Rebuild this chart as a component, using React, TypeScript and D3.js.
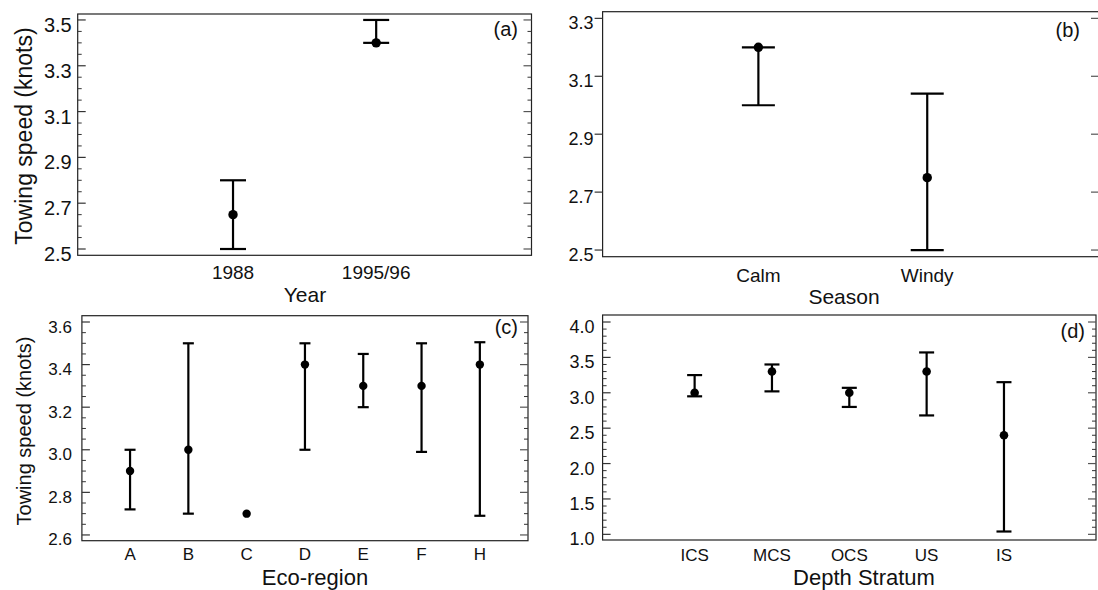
import React from "react";
import * as d3 from "d3";

// (a) Year
const yearCats = ["1988", "1995/96"];
const yearMean = [2.65, 3.4];
const yearLow = [2.5, 3.4];
const yearHigh = [2.8, 3.5];
const yearTicks = [2.5, 2.7, 2.9, 3.1, 3.3, 3.5];

// (b) Season
const seasonCats = ["Calm", "Windy"];
const seasonMean = [3.2, 2.75];
const seasonLow = [3.0, 2.5];
const seasonHigh = [3.2, 3.04];
const seasonTicks = [2.5, 2.7, 2.9, 3.1, 3.3];

// (c) Eco-region
const ecoCats = ["A", "B", "C", "D", "E", "F", "H"];
const ecoMean = [2.9, 3.0, 2.7, 3.4, 3.3, 3.3, 3.4];
const ecoLow = [2.72, 2.7, null, 3.0, 3.2, 2.99, 2.69];
const ecoHigh = [3.0, 3.5, null, 3.5, 3.45, 3.5, 3.505];
const ecoTicks = [2.6, 2.8, 3.0, 3.2, 3.4, 3.6];

// (d) Depth stratum
const depthCats = ["ICS", "MCS", "OCS", "US", "IS"];
const depthMean = [3.0, 3.3, 3.0, 3.3, 2.4];
const depthLow = [2.95, 3.02, 2.8, 2.68, 1.04];
const depthHigh = [3.25, 3.4, 3.07, 3.57, 3.15];
const depthTicks = [1.0, 1.5, 2.0, 2.5, 3.0, 3.5, 4.0];

const FONT = "'Liberation Sans', Arial, Helvetica, sans-serif";

type PanelProps = {
  cats: string[];
  mean: number[];
  low: (number | null)[];
  high: (number | null)[];
  ticks: number[];
  minorStep?: number;
  box: { left: number; right: number; top: number; bottom: number };
  yDomain: [number, number];
  padding: number;
  align?: number;
  cap: number;
  r: number;
  tickFont: number;
  tickGap: number;
  outwardLeft?: boolean;
  catFont: number;
  catY: number;
  xTitle: string;
  xTitleX: number;
  xTitleY: number;
  xTitleFont: number;
  yTitle?: string;
  yTitleX?: number;
  yTitleY?: number;
  yTitleFont?: number;
  tag: string;
  tagX: number;
  tagY: number;
  tagFont: number;
};

function ErrorPanel(p: PanelProps) {
  const { left, right, top, bottom } = p.box;
  const x = d3
    .scalePoint<string>()
    .domain(p.cats)
    .range([left, right])
    .padding(p.padding)
    .align(p.align ?? 0.5);
  const y = d3.scaleLinear().domain(p.yDomain).range([bottom, top]);
  const fmt = d3.format(".1f");

  // minor ticks between the labelled ones
  const minor = p.minorStep
    ? d3
        .range(Math.ceil(p.yDomain[0] / p.minorStep), Math.floor(p.yDomain[1] / p.minorStep) + 1)
        .map((k) => k * p.minorStep!)
        .filter((v) => !p.ticks.some((t) => Math.abs(t - v) < 1e-6))
    : [];

  const major = 8;
  const small = 4;

  return (
    <g>
      <rect x={left} y={top} width={right - left} height={bottom - top} fill="none" stroke="#222" strokeWidth={1.2} />

      {minor.map((v) => (
        <g key={"m" + v} stroke="#333" strokeWidth={1}>
          <line x1={left} x2={left + small} y1={y(v)} y2={y(v)} />
          <line x1={right} x2={right - small} y1={y(v)} y2={y(v)} />
        </g>
      ))}

      {p.ticks.map((v) => (
        <g key={"t" + v}>
          <line
            x1={left}
            x2={p.outwardLeft ? left - major : left + major}
            y1={y(v)}
            y2={y(v)}
            stroke="#333"
            strokeWidth={1.2}
          />
          <line x1={right} x2={right - major} y1={y(v)} y2={y(v)} stroke="#555" strokeWidth={1.2} />
          <text
            x={left - p.tickGap}
            y={y(v) + 5}
            textAnchor="end"
            dominantBaseline="central"
            fontSize={p.tickFont}
            fontFamily={FONT}
            fill="#111"
          >
            {fmt(v)}
          </text>
        </g>
      ))}

      {p.cats.map((c) => (
        <text
          key={"c" + c}
          x={x(c)!}
          y={p.catY}
          textAnchor="middle"
          dominantBaseline="central"
          fontSize={p.catFont}
          fontFamily={FONT}
          fill="#111"
        >
          {c}
        </text>
      ))}

      {p.cats.map((c, i) => {
        const lo = p.low[i];
        const hi = p.high[i];
        const cx = x(c)!;
        if (lo == null || hi == null) return null;
        return (
          <g key={"e" + c} stroke="#000" strokeWidth={2.2}>
            <line x1={cx} x2={cx} y1={y(lo)} y2={y(hi)} />
            <line x1={cx - p.cap} x2={cx + p.cap} y1={y(lo)} y2={y(lo)} />
            <line x1={cx - p.cap} x2={cx + p.cap} y1={y(hi)} y2={y(hi)} />
          </g>
        );
      })}

      {p.cats.map((c, i) => (
        <circle key={"p" + c} cx={x(c)!} cy={y(p.mean[i])} r={p.r} fill="#000" />
      ))}

      <text
        x={p.xTitleX}
        y={p.xTitleY}
        textAnchor="middle"
        dominantBaseline="central"
        fontSize={p.xTitleFont}
        fontFamily={FONT}
        fill="#111"
      >
        {p.xTitle}
      </text>
      {p.yTitle && (
        <text
          transform={`translate(${p.yTitleX},${p.yTitleY}) rotate(-90)`}
          textAnchor="middle"
          dominantBaseline="central"
          fontSize={p.yTitleFont}
          fontFamily={FONT}
          fill="#111"
        >
          {p.yTitle}
        </text>
      )}
      <text
        x={p.tagX}
        y={p.tagY}
        textAnchor="end"
        dominantBaseline="central"
        fontSize={p.tagFont}
        fontFamily={FONT}
        fill="#111"
      >
        {p.tag}
      </text>
    </g>
  );
}

export default function App() {
  return (
    <svg
      width={1098}
      height={590}
      style={{ position: "absolute", left: 0, top: 0, background: "#fff" }}
    >
      <ErrorPanel
        cats={yearCats}
        mean={yearMean}
        low={yearLow}
        high={yearHigh}
        ticks={yearTicks}
        minorStep={0.05}
        box={{ left: 77.7, right: 531.5, top: 14, bottom: 255.3 }}
        yDomain={[2.4725, 3.526]}
        padding={1.085}
        cap={13}
        r={4.7}
        tickFont={20}
        tickGap={6}
        catFont={19}
        catY={272}
        xTitle="Year"
        xTitleX={305}
        xTitleY={294}
        xTitleFont={21}
        yTitle="Towing speed (knots)"
        yTitleX={24}
        yTitleY={136}
        yTitleFont={23}
        tag="(a)"
        tagX={518}
        tagY={29}
        tagFont={20}
      />
      <ErrorPanel
        cats={seasonCats}
        mean={seasonMean}
        low={seasonLow}
        high={seasonHigh}
        ticks={seasonTicks}
        box={{ left: 602.6, right: 1099, top: 11.7, bottom: 256.7 }}
        yDomain={[2.477, 3.323]}
        padding={0.97}
        align={0.4756}
        cap={16.5}
        r={4.7}
        tickFont={18}
        tickGap={9}
        outwardLeft
        catFont={19}
        catY={275}
        xTitle="Season"
        xTitleX={844}
        xTitleY={296.7}
        xTitleFont={21}
        tag="(b)"
        tagX={1080}
        tagY={30}
        tagFont={20}
      />
      <ErrorPanel
        cats={ecoCats}
        mean={ecoMean}
        low={ecoLow}
        high={ecoHigh}
        ticks={ecoTicks}
        minorStep={0.05}
        box={{ left: 81.9, right: 528, top: 315.7, bottom: 540.7 }}
        yDomain={[2.573, 3.6296]}
        padding={0.826}
        cap={5.5}
        r={4.2}
        tickFont={17}
        tickGap={10}
        catFont={17}
        catY={554}
        xTitle="Eco-region"
        xTitleX={315}
        xTitleY={577}
        xTitleFont={22}
        yTitle="Towing speed (knots)"
        yTitleX={24}
        yTitleY={431}
        yTitleFont={20}
        tag="(c)"
        tagX={518}
        tagY={327}
        tagFont={20}
      />
      <ErrorPanel
        cats={depthCats}
        mean={depthMean}
        low={depthLow}
        high={depthHigh}
        ticks={depthTicks}
        minorStep={0.1}
        box={{ left: 602.6, right: 1096, top: 315, bottom: 540 }}
        yDomain={[0.92, 4.099]}
        padding={1.19}
        cap={7.5}
        r={4.3}
        tickFont={18}
        tickGap={8}
        catFont={17}
        catY={555}
        xTitle="Depth Stratum"
        xTitleX={864}
        xTitleY={577}
        xTitleFont={22}
        tag="(d)"
        tagX={1085}
        tagY={331}
        tagFont={20}
      />
    </svg>
  );
}
